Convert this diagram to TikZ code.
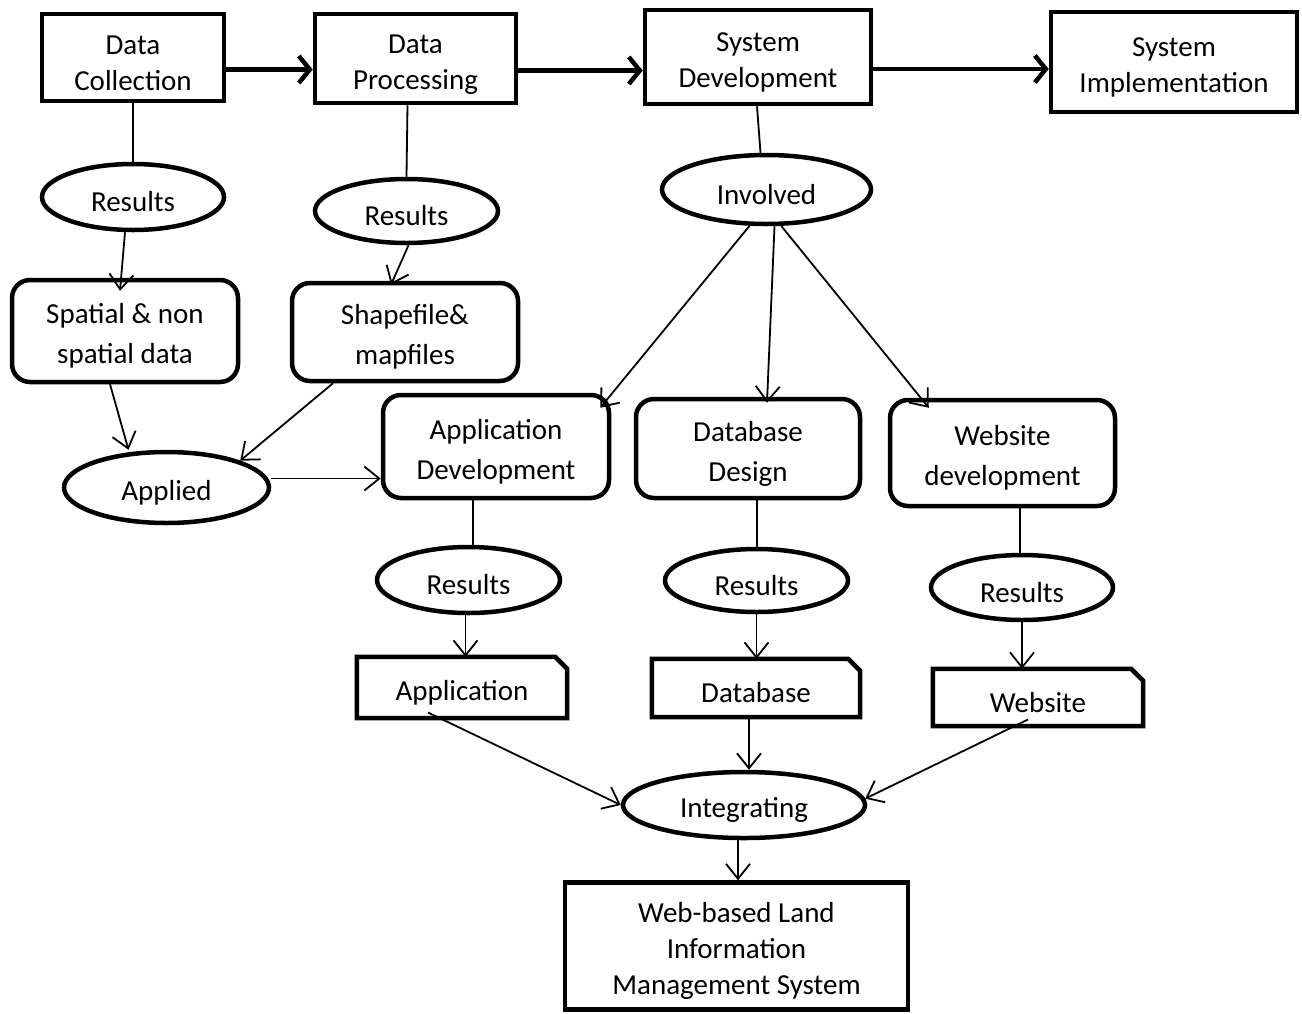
\documentclass[tikz,border=0pt]{standalone}
\usepackage{fontspec}
\setmainfont{Carlito}
\usetikzlibrary{shapes.geometric,arrows.meta}

% strut that sets the text a little lower in its shape
\newcommand{\dn}{\rule{0pt}{30pt}}

\begin{document}
\begin{tikzpicture}[x=1pt,y=-1pt,
    every node/.style={font=\fontsize{29}{36}\selectfont,align=center,inner sep=0pt},
    stagebox/.style={draw,line width=4.5pt},
    oval/.style={ellipse,draw,line width=4.5pt},
    rbox/.style={draw,line width=4.5pt,rounded corners=18pt,font=\fontsize{29}{40}\selectfont},
    docbox/.style={draw=none},
    link/.style={line width=1.8pt,-{Straight Barb[length=15pt,width=24pt]}},
    plain/.style={line width=1.8pt},
    flow/.style={line width=4.5pt,-{Straight Barb[length=11pt,width=27pt]}}]
    \useasboundingbox (0,0) rectangle (1302,1013);

    % top row
    \node[stagebox,minimum width=182,minimum height=87] (dc) at (133,57.5) {\dn Data\\Collection};
    \node[stagebox,minimum width=201,minimum height=89] (dp) at (415.5,58.5) {\dn Data\\Processing};
    \node[stagebox,minimum width=226,minimum height=94] (sd) at (758,57) {\dn System\\Development};
    \node[stagebox,minimum width=246,minimum height=100] (si) at (1174,62) {\dn System\\Implementation};

    \draw[flow] ([yshift=-12pt]dc.east) -- ([yshift=-12pt]dc.east -| dp.west);
    \draw[flow] ([yshift=-12pt]dp.east) -- ([yshift=-12pt]dp.east -| sd.west);
    \draw[flow] ([yshift=-12pt]sd.east) -- ([yshift=-12pt]sd.east -| si.west);

    % ovals
    \node[oval,minimum width=182,minimum height=66] (res1) at (133,197) {\dn Results};
    \node[oval,minimum width=183,minimum height=64] (res2) at (406.5,211) {\dn Results};
    \node[oval,minimum width=209,minimum height=69] (inv) at (766.5,189.5) {\dn Involved};
    \node[oval,minimum width=205,minimum height=71] (appl) at (166.5,487.5) {\dn Applied};
    \node[oval,minimum width=183,minimum height=66] (resA) at (468.5,580) {\dn Results};
    \node[oval,minimum width=183,minimum height=63] (resD) at (756.5,580.5) {\dn Results};
    \node[oval,minimum width=182,minimum height=65] (resW) at (1022,587.5) {\dn Results};
    \node[oval,minimum width=242,minimum height=66] (integ) at (744,805) {\dn Integrating};

    % rounded boxes
    \node[rbox,minimum width=226,minimum height=102] (spat) at (125,331) {\dn Spatial \& non\\spatial data};
    \node[rbox,minimum width=226,minimum height=98] (shp) at (405,332) {\dn Shapefile\&\\mapfiles};
    \node[rbox,minimum width=226,minimum height=103] (appdev) at (496,446.5) {\dn Application\\Development};
    \node[rbox,minimum width=224,minimum height=99] (dbd) at (748,448.5) {\dn Database\\Design};
    \node[rbox,minimum width=225,minimum height=106] (webd) at (1002.5,453) {\dn Website\\development};

    % output documents
    \node[docbox,minimum width=210,minimum height=61] (app) at (462,687.5) {\dn Application};
    \node[docbox,minimum width=208,minimum height=58] (db) at (756,688) {\dn Database};
    \node[docbox,minimum width=210,minimum height=57] (web) at (1038,697.5) {\dn Website};
    \foreach \n in {app,db,web}
        \draw[line width=4.5pt] (\n.south west) -- (\n.north west) -- ([xshift=-12pt]\n.north east)
            -- ([yshift=-12pt]\n.north east) -- (\n.south east) -- cycle;

    \node[stagebox,minimum width=343,minimum height=127] (wlims) at (736.5,946) {\dn Web-based Land\\Information\\Management System};

    % connectors
    \draw[plain] (dc.south) -- (res1.north);
    \draw[plain] ([xshift=-8pt]dp.south) -- (res2.north);
    \draw[plain] ([xshift=-1pt]sd.south) -- ([xshift=-6pt]inv.north);
    \draw[link] ([xshift=-8pt]res1.south) -- ([xshift=-5pt,yshift=-13pt]spat.north);
    \draw[link] ([xshift=2pt]res2.south) -- ([xshift=-14pt,yshift=-4pt]shp.north);
    \draw[link] (inv.245) -- ([xshift=-11pt,yshift=-15pt]appdev.north east);
    \draw[link] ([xshift=8pt]inv.south) -- ([xshift=19pt,yshift=-6pt]dbd.north);
    \draw[link] (inv.292) -- ([xshift=41pt,yshift=-10pt]webd.north west);
    \draw[link] ([xshift=-15pt]spat.south) -- ([xshift=-38pt]appl.north);
    \draw[link] ([xshift=-72pt]shp.south) -- (appl.20);
    \draw[link] ([yshift=9pt]appl.east) -- ([yshift=9pt]appl.east -| appdev.west);
    \draw[plain] ([xshift=-23pt]appdev.south) -- ([xshift=-23pt]appdev.south |- resA.north);
    \draw[plain] ([xshift=9pt]dbd.south) -- ([xshift=9pt]dbd.south |- resD.north);
    \draw[plain] ([xshift=17.5pt]webd.south) -- ([xshift=17.5pt]webd.south |- resW.north);
    \draw[link] ([xshift=-3pt]resA.south) -- ([xshift=-3pt]resA.south |- app.north);
    \draw[link] (resD.south) -- (resD.south |- db.north);
    \draw[link] (resW.south) -- (resW.south |- web.north);
    \draw[link] ([xshift=-34pt,yshift=-25pt]app.center) -- (integ.west);
    \draw[link] ([xshift=-7pt]db.south) -- ([xshift=-7pt]db.south |- integ.north);
    \draw[link] ([xshift=-10pt,yshift=-22pt]web.center) -- (integ.3);
    \draw[link] ([xshift=-6pt]integ.south) -- ([xshift=-6pt]integ.south |- wlims.north);
\end{tikzpicture}
\end{document}
